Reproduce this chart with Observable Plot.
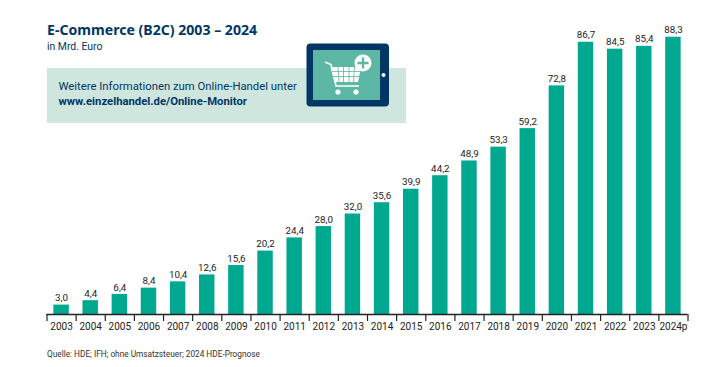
<!DOCTYPE html>
<html lang="de">
<head>
<meta charset="utf-8">
<script src="https://cdn.jsdelivr.net/npm/d3@7"></script>
<script src="https://cdn.jsdelivr.net/npm/@observablehq/plot@0.6"></script>
<style>
html,body{margin:0;padding:0;background:#fff;}
#wrap{position:relative;width:725px;height:367px;overflow:hidden;font-family:Roboto,sans-serif;}
#chart svg{display:block;position:absolute;left:0;top:0;}
.abs{position:absolute;white-space:nowrap;}
#title{left:47px;top:20px;font:700 14.1px/20px "Noto Sans",sans-serif;color:#003764;}
#sub{left:47px;top:39.5px;font:400 10.4px/13px Roboto,sans-serif;color:#003764;}
#panel{left:47px;top:68px;width:359px;height:55px;background:#cfe6df;}
#info{left:58.5px;top:79px;font:400 11.3px/15px Roboto,sans-serif;color:#003764;}
#info b{font-weight:700;font-size:11.3px;}
#source{left:47px;top:348px;font:400 8.28px/12px Roboto,sans-serif;color:#333;}
#icon{left:306px;top:43px;}
</style>
</head>
<body>
<div id="wrap">
  <div id="chart"></div>
  <div class="abs" id="title">E-Commerce (B2C) 2003 – 2024</div>
  <div class="abs" id="sub">in Mrd. Euro</div>
  <div class="abs" id="panel"></div>
  <div class="abs" id="info">Weitere Informationen zum Online-Handel unter<br><b>www.einzelhandel.de/Online-Monitor</b></div>
  <div class="abs" id="source">Quelle: HDE; IFH; ohne Umsatzsteuer; 2024 HDE-Prognose</div>
  <svg class="abs" id="icon" width="84" height="64" viewBox="0 0 84 64">
    <rect x="0.5" y="0.5" width="82.5" height="63" rx="4" fill="#003764"/>
    <rect x="7" y="7" width="67" height="50" fill="#5cb8a4"/>
    <circle cx="77.5" cy="32" r="2" fill="#fff"/>
    <path d="M19 19 L25 21.5 L30 43 L53 43" fill="none" stroke="#fff" stroke-width="1.6"/>
    <path d="M24.5 24 H55 L52 39 H28.5 Z" fill="#fff"/>
    <path d="M26 28.5 H54 M27 33.5 H53 M32 24 L33 39 M37.5 24 V39 M43 24 V39 M48.5 24 L47.5 39" stroke="#5cb8a4" stroke-width="0.8" fill="none"/>
    <circle cx="32" cy="49" r="2.6" fill="#fff"/>
    <circle cx="50" cy="49" r="2.6" fill="#fff"/>
    <circle cx="57" cy="20" r="8.5" fill="#fff"/>
    <path d="M57 14.5 V25.5 M51.5 20 H62.5" stroke="#5cb8a4" stroke-width="2.4"/>
  </svg>
</div>
<script>
const years = [2003,2004,2005,2006,2007,2008,2009,2010,2011,2012,2013,2014,2015,2016,2017,2018,2019,2020,2021,2022,2023,2024];
const values = [3.0,4.4,6.4,8.4,10.4,12.6,15.6,20.2,24.4,28.0,32.0,35.6,39.9,44.2,48.9,53.3,59.2,72.8,86.7,84.5,85.4,88.3];
const yearLabels = ["2003","2004","2005","2006","2007","2008","2009","2010","2011","2012","2013","2014","2015","2016","2017","2018","2019","2020","2021","2022","2023","2024p"];
const tickEdges = [2003,2004,2005,2006,2007,2008,2009,2010,2011,2012,2013,2014,2015,2016,2017,2018,2019,2020,2021,2022,2023,2024,2025];

const rows = years.map((year, i) => ({year, value: values[i], label: yearLabels[i]}));
const decimal = v => v.toFixed(1).replace(".", ",");

const plot = Plot.plot({
  width: 725,
  height: 367,
  marginLeft: 46.5,
  marginRight: 37.5,
  marginTop: 0,
  marginBottom: 53,
  style: {background: "transparent", fontFamily: "Roboto, sans-serif"},
  x: {type: "linear", domain: [2003, 2025]},
  y: {domain: [0, 100]},
  marks: [
    Plot.rectY(rows, {x1: d => d.year + 0.235, x2: d => d.year + 0.765, y1: 0, y2: "value", fill: "#00a88f"}),
    Plot.axisY({ticks: [], label: null, tickSize: 0}),
    Plot.axisX({ticks: tickEdges, tickSize: 7, tickFormat: () => "", stroke: "#222", strokeWidth: 1.2, label: null}),
    Plot.ruleY([0], {stroke: "#222", strokeWidth: 1.4}),
    Plot.text(rows, {x: d => d.year + 0.5, y: 0, text: "label", dy: 12, fontSize: 10, fill: "#222"}),
    Plot.text(rows, {x: d => d.year + 0.5, y: "value", text: d => decimal(d.value), dy: -7, fontSize: 9.8, fill: "#222"})
  ]
});
document.getElementById("chart").appendChild(plot);
</script>
</body>
</html>
